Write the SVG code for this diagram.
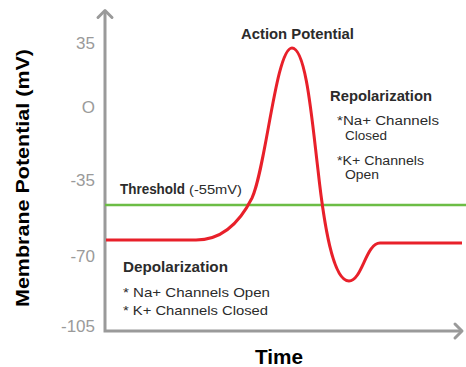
<svg xmlns="http://www.w3.org/2000/svg" width="466" height="367" viewBox="0 0 466 367">
<style>
.tick{font-family:"Liberation Sans",Arial,sans-serif;font-size:17px;fill:#9a9a9a;text-anchor:end}
.b{font-family:"Liberation Sans",Arial,sans-serif;font-weight:bold;fill:#2b2b2b}
.r{font-family:"Liberation Sans",Arial,sans-serif;font-size:13px;fill:#2b2b2b}
.rs{font-family:"Liberation Sans",Arial,sans-serif;font-size:12px;fill:#2b2b2b}
.axis{stroke:#9a9a9a;stroke-width:3;fill:none}
.ah{stroke:#9a9a9a;stroke-width:3;fill:none;stroke-linecap:round;stroke-linejoin:round}
</style>
<rect width="466" height="367" fill="#fff"/>
<g id="axes">
<path class="axis" d="M105,11 V331 H461"/>
<path class="ah" d="M98,17.5 L105,10.5 L112,17.5"/>
<path class="ah" d="M455,324 L462,331 L455,338"/>
</g>
<g id="ticks">
<text class="tick" x="95" y="49">35</text>
<text class="tick" x="95" y="113">O</text>
<text class="tick" x="95" y="186">-35</text>
<text class="tick" x="95" y="262">-70</text>
<text class="tick" x="95" y="332">-105</text>
</g>
<g id="y-label">
<text class="b" font-size="19" transform="translate(29,178) rotate(-90)" text-anchor="middle" style="fill:#000" textLength="258" lengthAdjust="spacingAndGlyphs">Membrane Potential (mV)</text>
</g>
<g id="x-label">
<text class="b" font-size="21" x="255" y="364" style="fill:#000" textLength="48" lengthAdjust="spacingAndGlyphs">Time</text>
</g>
<g id="threshold">
<line x1="105" y1="205" x2="466" y2="205" stroke="#6cbd45" stroke-width="2.5"/>
<text class="b" font-size="14" x="120" y="194" textLength="65" lengthAdjust="spacingAndGlyphs">Threshold</text>
<text class="r" x="189" y="194" textLength="53" lengthAdjust="spacingAndGlyphs">(-55mV)</text>
</g>
<g id="connectors">
<path d="M106,240 H196 C222,240 240,222 252,198 C266,168 276,48 292,48 C306,48 312,120 318,170 C324,225 333,281 349,281 C362,281 366,243 380,243 H462" fill="none" stroke="#e8202a" stroke-width="3" stroke-linejoin="round"/>
</g>
<g id="action-potential">
<text class="b" font-size="15" x="241" y="39" textLength="113" lengthAdjust="spacingAndGlyphs">Action Potential</text>
</g>
<g id="repolarization">
<text class="b" font-size="14.5" x="330" y="101" textLength="102" lengthAdjust="spacingAndGlyphs">Repolarization</text>
<text class="rs" x="337" y="125" textLength="102" lengthAdjust="spacingAndGlyphs">*Na+ Channels</text>
<text class="rs" x="345" y="140" textLength="42" lengthAdjust="spacingAndGlyphs">Closed</text>
<text class="rs" x="337" y="164.5" textLength="87" lengthAdjust="spacingAndGlyphs">*K+ Channels</text>
<text class="rs" x="345" y="179" textLength="34" lengthAdjust="spacingAndGlyphs">Open</text>
</g>
<g id="depolarization">
<text class="b" font-size="15" x="123" y="272" textLength="105" lengthAdjust="spacingAndGlyphs">Depolarization</text>
<text class="r" x="123" y="297" textLength="147" lengthAdjust="spacingAndGlyphs">* Na+ Channels Open</text>
<text class="r" x="123" y="315" textLength="145" lengthAdjust="spacingAndGlyphs">* K+ Channels Closed</text>
</g>
</svg>
